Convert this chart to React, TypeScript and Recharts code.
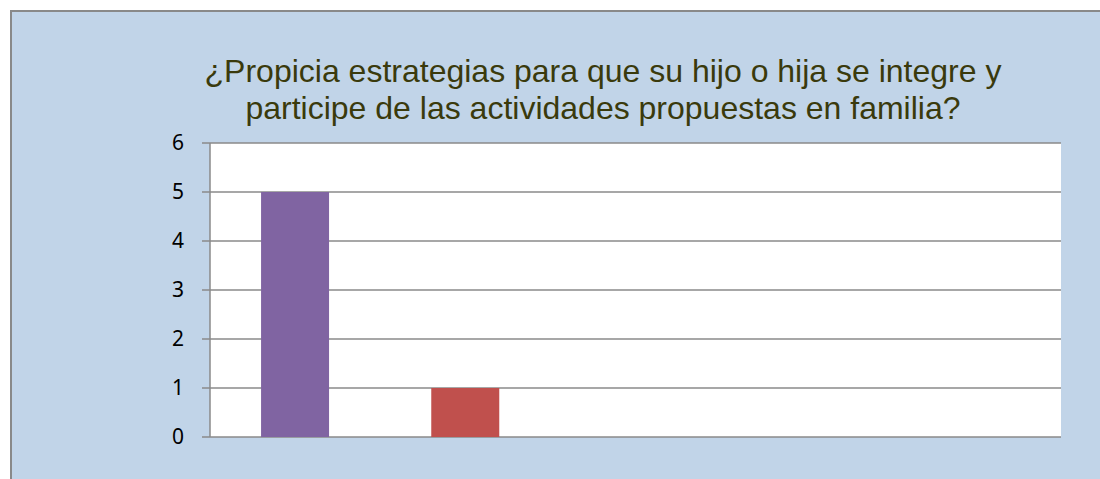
import { BarChart, Bar, XAxis, YAxis, CartesianGrid, Cell } from "recharts";

// categorias (sin etiquetas visibles en el grafico)
const categorias = ["1", "2", "3", "4", "5"];
const valores = [5, 1, 0, 0, 0];
const colores = ["#8064A2", "#C0504D", "#9BBB59", "#4BACC6", "#F79646"];
const ticksY = [0, 1, 2, 3, 4, 5, 6];
const tituloLineas = [
  "¿Propicia estrategias para que su hijo o hija se integre y",
  "participe de las actividades propuestas en familia?",
];

export default function App() {
  const data = categorias.map((c, i) => ({ cat: c, valor: valores[i] }));

  return (
    <div
      style={{
        position: "absolute",
        left: 0,
        top: 0,
        width: 1100,
        height: 479,
        overflow: "hidden",
        background: "#ffffff",
      }}
    >
      {/* fondo del area del grafico */}
      <div
        style={{
          position: "absolute",
          left: 10,
          top: 10,
          width: 1100,
          height: 479,
          background: "#C1D4E8",
          borderLeft: "2px solid #898989",
          borderTop: "2px solid #898989",
        }}
      />
      <div
        style={{
          position: "absolute",
          left: 0,
          top: 53,
          width: 1206,
          textAlign: "center",
          fontFamily: "'Liberation Sans', Arial, sans-serif",
          fontSize: 32,
          lineHeight: "37px",
          color: "#3a3a0c",
          whiteSpace: "nowrap",
        }}
      >
        {tituloLineas.map((l) => (
          <div key={l}>{l}</div>
        ))}
      </div>
      <div style={{ position: "absolute", left: 0, top: 0 }}>
        <BarChart
          width={1100}
          height={479}
          data={data}
          margin={{ top: 143, right: 39, bottom: 42, left: 150 }}
          barCategoryGap="30%"
        >
          <CartesianGrid
            vertical={false}
            stroke="#8a8a8a"
            strokeWidth={1.5}
            fill="#ffffff"
            fillOpacity={1}
          />
          <XAxis
            dataKey="cat"
            tick={false}
            tickLine={false}
            axisLine={{ stroke: "#8a8a8a", strokeWidth: 1.5 }}
            height={0}
          />
          <YAxis
            width={60}
            domain={[0, 6]}
            ticks={ticksY}
            interval={0}
            tickSize={8}
            tickMargin={18}
            tickLine={{ stroke: "#8a8a8a", strokeWidth: 1.5 }}
            axisLine={{ stroke: "#8a8a8a", strokeWidth: 1.5 }}
            tick={{
              fill: "#000000",
              fontSize: 21,
              fontFamily: "'Noto Sans', sans-serif",
            }}
          />
          <Bar dataKey="valor" isAnimationActive={false}>
            {data.map((d, i) => (
              <Cell key={d.cat} fill={colores[i]} />
            ))}
          </Bar>
        </BarChart>
      </div>
    </div>
  );
}
